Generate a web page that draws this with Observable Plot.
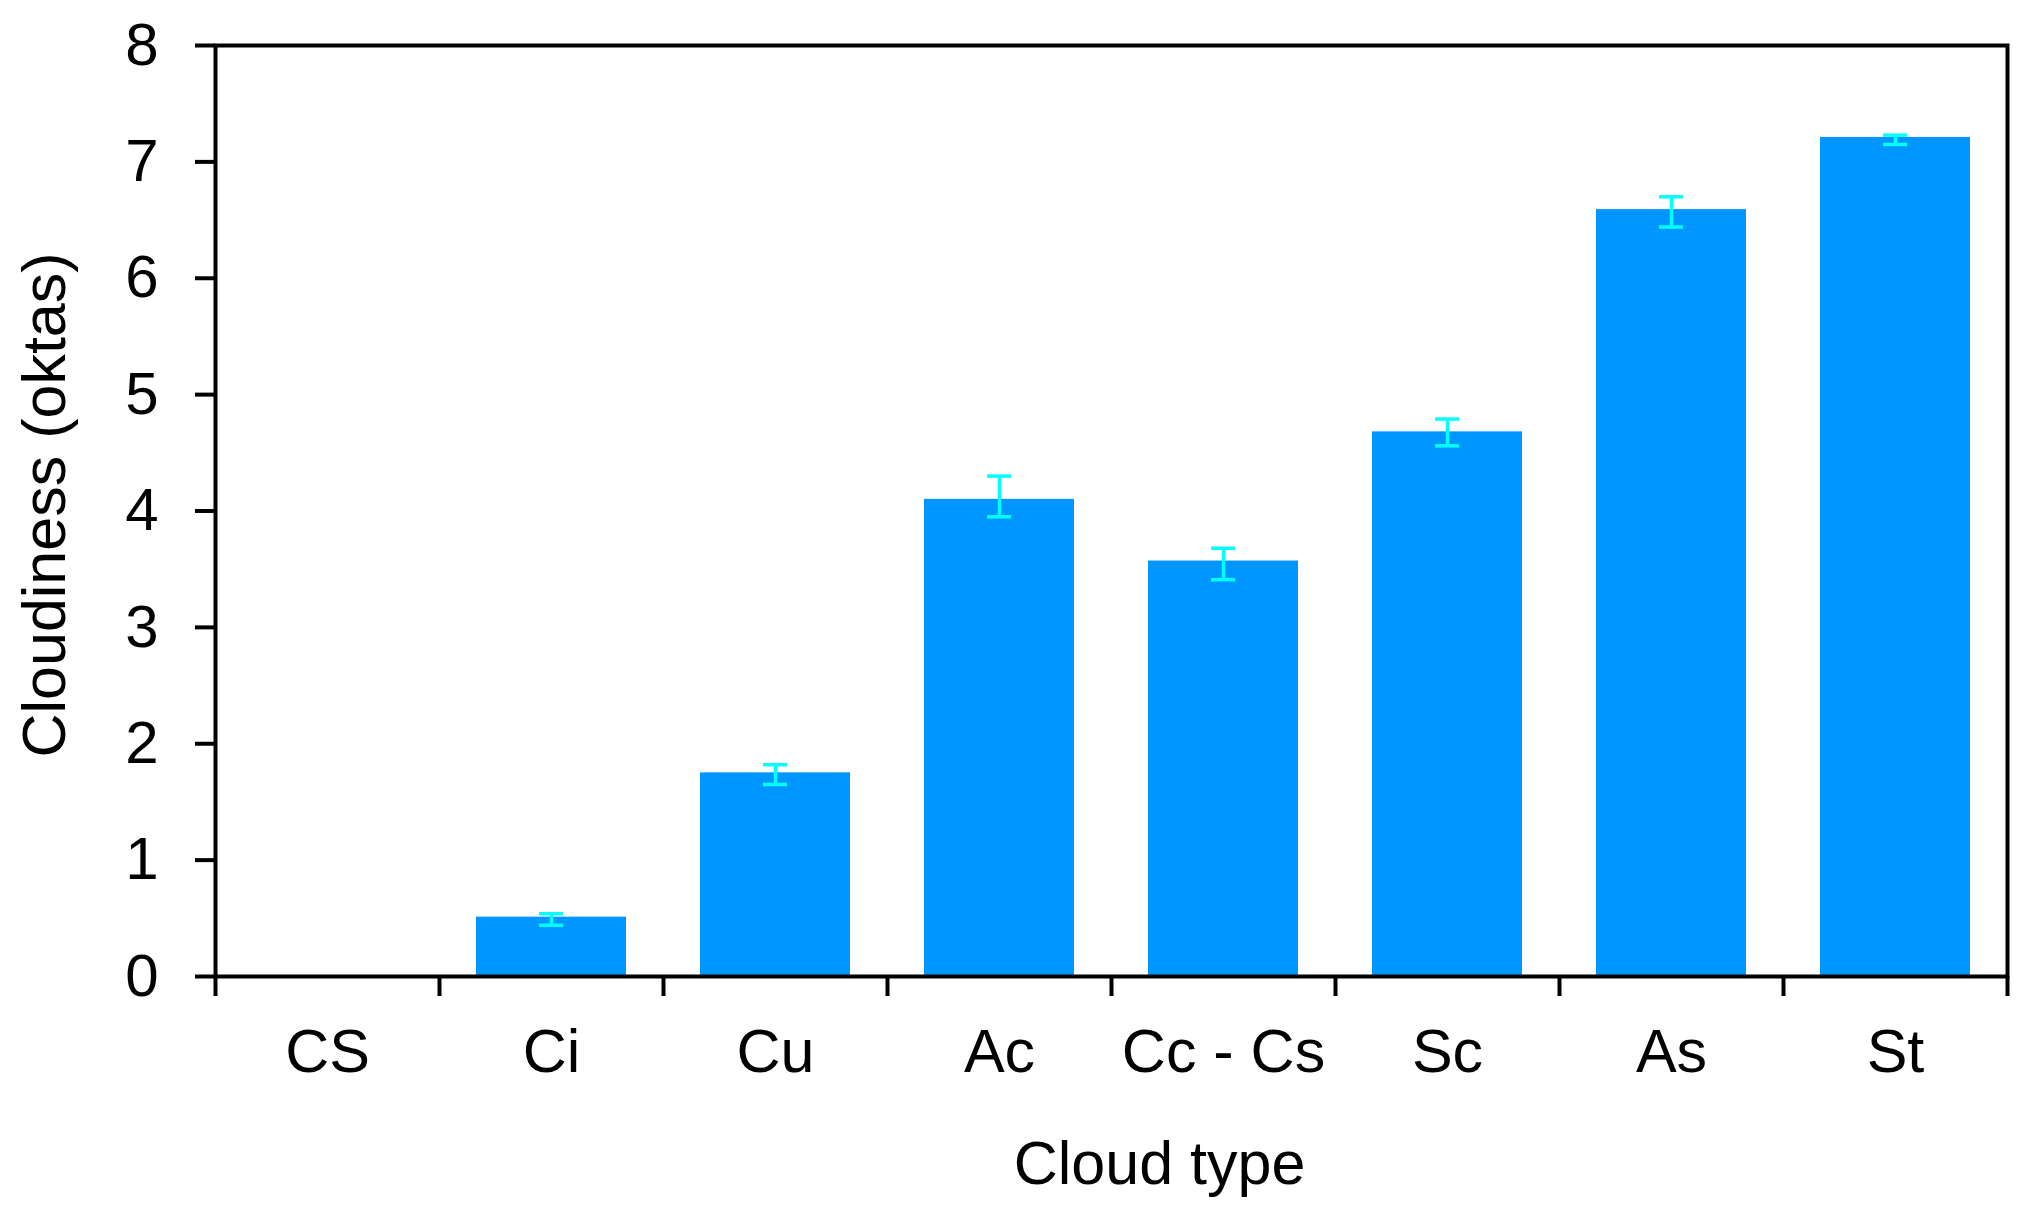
<!DOCTYPE html>
<html><head><meta charset="utf-8">
<script src="https://cdn.jsdelivr.net/npm/d3@7"></script>
<script src="https://cdn.jsdelivr.net/npm/@observablehq/plot@0.6"></script>
<style>body{margin:0;background:#fff;} svg{display:block}</style>
</head><body><div id="chart"></div>
<script>
const categories = ["CS", "Ci", "Cu", "Ac", "Cc - Cs", "Sc", "As", "St"];
const values = [null, 0.51, 1.75, 4.10, 3.57, 4.68, 6.59, 7.21];
const errLow = [null, 0.44, 1.65, 3.95, 3.41, 4.56, 6.44, 7.15];
const errHigh = [null, 0.54, 1.82, 4.30, 3.68, 4.79, 6.70, 7.23];
const yTicks = [0, 1, 2, 3, 4, 5, 6, 7, 8];
const xTitle = "Cloud type";
const yTitle = "Cloudiness (oktas)";

const data = categories.map((c, i) => ({cat: c, i, value: values[i], lo: errLow[i], hi: errHigh[i]}));
const withVal = data.filter(d => d.value != null);
const errCol = "#00ffff";

const chart = Plot.plot({
  width: 2027, height: 1217,
  marginLeft: 215, marginRight: 20, marginTop: 45, marginBottom: 241,
  style: {fontFamily: "'Liberation Sans', Arial, sans-serif", background: "white", color: "black"},
  x: {domain: [0, categories.length], axis: null},
  y: {domain: [0, 8], axis: null},
  marks: [
    Plot.rectY(withVal, {x1: d => d.i, x2: d => d.i + 1, y1: 0, y2: "value", fill: "#0096ff", insetLeft: 37, insetRight: 37}),
    Plot.ruleX(withVal, {x: d => d.i + 0.5, y1: "lo", y2: "hi", stroke: errCol, strokeWidth: 3.5}),
    Plot.ruleY(withVal, {y: "lo", x1: d => d.i, x2: d => d.i + 1, insetLeft: 100, insetRight: 100, stroke: errCol, strokeWidth: 3.5}),
    Plot.ruleY(withVal, {y: "hi", x1: d => d.i, x2: d => d.i + 1, insetLeft: 100, insetRight: 100, stroke: errCol, strokeWidth: 3.5}),
    Plot.frame({stroke: "black", strokeWidth: 4}),
    Plot.axisY({ticks: yTicks, tickSize: 20, tickPadding: 37, fontSize: 60, strokeWidth: 4, label: null}),
    Plot.axisX({ticks: d3.range(0, categories.length + 1), tickSize: 20, tickFormat: () => "", strokeWidth: 4, label: null}),
    Plot.axisX({ticks: categories.map((c, i) => i + 0.5), tickSize: 0, tickPadding: 52, tickFormat: t => categories[Math.floor(t)], fontSize: 61, label: null}),
    Plot.text([yTitle], {text: d => d, frameAnchor: "left", textAnchor: "middle", dx: -170, dy: -6, rotate: -90, fontSize: 61}),
    Plot.text([xTitle], {text: d => d, frameAnchor: "bottom", dx: 48, dy: 164, lineAnchor: "top", fontSize: 61})
  ]
});
document.getElementById("chart").appendChild(chart);
</script>
</body></html>
